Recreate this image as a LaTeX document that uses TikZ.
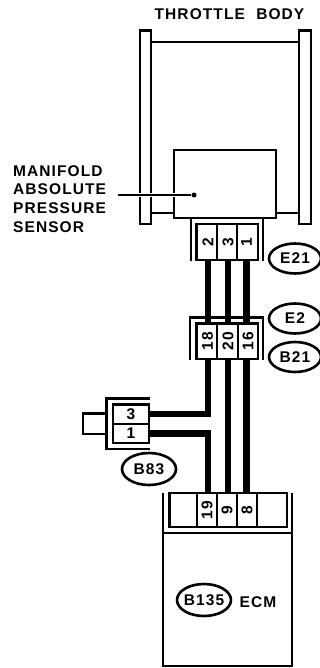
\documentclass[tikz,border=0pt]{standalone}
\usepackage{graphicx}
\usepackage{fontspec}
\setmainfont{Liberation Sans}
\newfontfamily\lblfont[LetterSpace=7]{Liberation Sans}
\newcommand{\rot}[1]{\rotatebox{90}{#1}}
\newcommand{\tagtext}[1]{\makebox[0pt]{#1}}
\usetikzlibrary{shapes.geometric}
\tikzset{
  every node/.style={font=\lblfont\bfseries\fontsize{15.5}{16}\selectfont, inner sep=0pt},
  line/.style={draw=black, line width=2.4pt},
  thin line/.style={draw=black, line width=1.7pt},
  wire/.style={draw=black, line width=6.6pt},
  tag/.style={ellipse, draw=black, line width=2.6pt, minimum width=52pt, minimum height=30pt},
  vpin/.style={inner sep=0pt, minimum width=16pt},
}
\begin{document}
\begin{tikzpicture}[x=1pt,y=-1pt]
\useasboundingbox (0,0) rectangle (320,668);
\fill[white] (0,0) rectangle (320,668);
% throttle body
\node (title) at (229.5,14) {THROTTLE\hspace{6pt} BODY};
\draw[line] (151,42) -- (299,42);
\draw[line] (151,213) -- (174,213);
\draw[line] (276,213) -- (299,213);
\draw[line] (140,30.5) rectangle (151,224);
\draw[line] (299,30.5) rectangle (311,224);
\node[line, minimum width=102pt, minimum height=68pt] (sensor) at (225,184) {};
% leader
\coordinate (lstart) at (118,195);
\node[circle, fill=black, minimum size=5pt] (ldot) at (194,195) {};
\draw[white, line width=4.5pt] (125,195) -- (ldot);
\draw[black, line width=1.2pt] (lstart) -- (ldot);
\node[align=left, anchor=north west, font=\lblfont\bfseries\fontsize{15.5}{18.7}\selectfont] (mlabel) at (13,165) {MANIFOLD\\ABSOLUTE\\PRESSURE\\SENSOR};
% E21 connector
\draw[line] (191,218) -- (191,261);
\draw[line] (263,218) -- (263,261);
\draw[line] (196.5,224) rectangle (258,260);
\draw[thin line] (217,224) -- (217,260);
\draw[thin line] (237,224) -- (237,260);
\node[vpin, minimum height=36pt] (p2) at (208,242) {\rot{2}};
\node[vpin, minimum height=36pt] (p3) at (228,242) {\rot{3}};
\node[vpin, minimum height=36pt] (p1) at (246.5,242) {\rot{1}};
% E2/B21 connector
\draw[line] (190,360) -- (190,317.5) -- (263,317.5) -- (263,360);
\draw[line] (196.5,323.5) rectangle (258,359);
\draw[thin line] (217,323.5) -- (217,359);
\draw[thin line] (238,323.5) -- (238,359);
\node[vpin, minimum height=35.5pt] (p18) at (207.5,341) {\rot{18}};
\node[vpin, minimum height=35.5pt] (p20) at (228,341) {\rot{20}};
\node[vpin, minimum height=35.5pt] (p16) at (248,341) {\rot{16}};
% B83 connector
\draw[line] (149.5,398.5) -- (106.5,398.5) -- (106.5,449) -- (149.5,449);
\draw[line] (113,404.5) rectangle (149,443);
\draw[thin line] (113,424) -- (149,424);
\node[minimum width=36pt, minimum height=19.5pt] (p3b) at (131,414) {3};
\node[minimum width=36pt, minimum height=19pt] (p1b) at (131,433.5) {1};
\draw[line] (106,413.5) -- (83,413.5) -- (83,434) -- (106,434);
% ECM
\draw[line] (163,493) -- (163,666) -- (292,666) -- (292,493);
\draw[line] (163,533) -- (292,533);
\draw[line] (169.5,493) rectangle (287,527);
\draw[thin line] (197,493) -- (197,527);
\draw[thin line] (217,493) -- (217,527);
\draw[thin line] (237,493) -- (237,527);
\draw[thin line] (257,493) -- (257,527);
\node[vpin, minimum height=34pt] (p19) at (207,510) {\rot{19}};
\node[vpin, minimum height=34pt] (p9) at (227,510) {\rot{9}};
\node[vpin, minimum height=34pt] (p8) at (247,510) {\rot{8}};
% wires
\draw[wire] (p2.south) -- (p2.south |- p18.north);
\draw[wire] (p3.south) -- (p20.north);
\draw[wire] (p1.south) -- (p1.south |- p16.north);
\draw[wire] (p18.south -| p2.south) -- (208,417);
\draw[wire] (p3b.east) -| (208,417);
\draw[wire] (p1b.east) -| (p2.south |- p19.north);
\draw[wire] (p20.south) -- (228,493);
\draw[wire] (p16.south -| p1.south) -- (p1.south |- p8.north);
% tags
\node[tag] (e21) at (295,258.5) {\tagtext{E21}};
\node[tag] (e2) at (295,318.5) {\tagtext{E2}};
\node[tag] (b21) at (295,357) {\tagtext{B21}};
\node[tag, minimum width=54pt, minimum height=32pt] (b83) at (149,469) {\tagtext{B83}};
\node[tag, minimum width=54pt, minimum height=32pt] (b135) at (204,600) {\tagtext{B135}};
\node (ecm) at (258,602) {ECM};
\end{tikzpicture}
\end{document}
